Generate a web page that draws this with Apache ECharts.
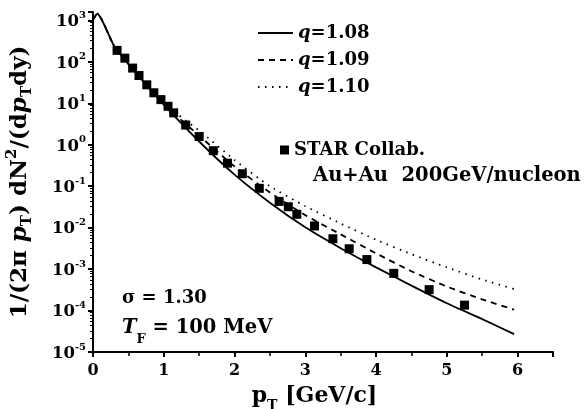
<!DOCTYPE html>
<html>
<head>
<meta charset="utf-8">
<script src="https://cdn.jsdelivr.net/npm/echarts@6/dist/echarts.min.js"></script>
<style>
  html, body { margin: 0; padding: 0; background: #fff; }
  #chart { width: 588px; height: 409px; }
</style>
</head>
<body>
<div id="chart"></div>
<script>
// pT grid the model curves were read at
var ptCurve = [0, 0.06, 0.3, 0.6, 1.0, 1.5, 2.0, 2.5, 3.0, 3.5, 4.0, 4.5, 5.0, 5.5, 5.95];
var q108 = [1050, 1450, 240, 56, 9.3, 1.2, 0.19, 0.040, 0.0102, 0.0032, 0.0011, 0.0004, 0.00015, 0.000062, 0.000027];
var q109 = [1050, 1450, 240, 56, 9.5, 1.66, 0.30, 0.071, 0.020, 0.0069, 0.0024, 0.00089, 0.00038, 0.000186, 0.000105];
var q110 = [1050, 1450, 240, 56, 10, 2.2, 0.43, 0.10, 0.033, 0.0126, 0.0051, 0.0023, 0.0011, 0.00056, 0.00033];

// STAR Collab. Au+Au 200 GeV points
var ptStar = [0.34, 0.45, 0.56, 0.65, 0.76, 0.86, 0.96, 1.06, 1.14, 1.31, 1.50, 1.70, 1.90, 2.11, 2.35,
              2.63, 2.76, 2.88, 3.13, 3.39, 3.62, 3.87, 4.25, 4.75, 5.25];
var yStar = [190, 123, 71, 47, 28, 18, 12.3, 8.5, 5.9, 3.0, 1.58, 0.72, 0.36, 0.20, 0.089,
             0.043, 0.032, 0.021, 0.011, 0.0054, 0.0031, 0.0017, 0.00079, 0.00032, 0.000135];

var xTicks = ['0', '1', '2', '3', '4', '5', '6'];

var myChart = echarts.init(document.getElementById('chart'));
var font = 'DejaVu Serif';

function pairs(xs, ys) {
    return xs.map(function (x, i) { return [x, ys[i]]; });
}

function txt(size, extra) {
    var s = { fontFamily: font, fontWeight: 'bold', fontSize: size, color: '#000' };
    for (var k in extra) s[k] = extra[k];
    return s;
}

var option = {
    backgroundColor: '#fff',
    animation: false,
    textStyle: { fontFamily: font, fontWeight: 'bold', color: '#000' },
    grid: { left: 93, right: 35, top: 12, bottom: 57, outerBoundsMode: 'none' },
    legend: [
        {
            data: ['q=1.08', 'q=1.09', 'q=1.10'],
            orient: 'vertical',
            left: 252, top: 19,
            itemWidth: 35, itemHeight: 14, itemGap: 9,
            itemStyle: { opacity: 0 },
            formatter: function (name) {
                return '{i|q}{n|' + name.slice(1) + '}';
            },
            textStyle: {
                rich: {
                    i: txt(18, { fontStyle: 'italic' }),
                    n: txt(18)
                }
            }
        },
        {
            data: ['STAR Collab.'],
            left: 275, top: 136,
            itemWidth: 9, itemHeight: 9,
            textStyle: txt(18)
        }
    ],
    xAxis: {
        type: 'value',
        min: 0, max: 6.5, interval: 1,
        name: '{p|p}{s|T}{n| [GeV/c]}',
        nameLocation: 'middle', nameGap: 33,
        nameTextStyle: {
            padding: [0, 17, 0, 0],
            rich: {
                p: txt(22, { lineHeight: 28, verticalAlign: 'top' }),
                s: txt(14, { lineHeight: 28, verticalAlign: 'bottom' }),
                n: txt(22, { lineHeight: 28, verticalAlign: 'top' })
            }
        },
        axisLine: { onZero: false, lineStyle: { color: '#000', width: 2 } },
        axisTick: { length: 5, lineStyle: { color: '#000', width: 2 } },
        minorTick: { show: true, splitNumber: 2, length: 4, lineStyle: { color: '#000', width: 1.5 } },
        splitLine: { show: false },
        axisLabel: {
            fontFamily: font, fontWeight: 'bold', fontSize: 16, color: '#000', margin: 11,
            formatter: function (v) {
                return Number.isInteger(v) ? xTicks[v] : '';
            }
        }
    },
    yAxis: {
        type: 'log',
        logBase: 10,
        min: 1e-5, max: 1600,
        name: '1/(2\u03c0 {i|p}{sub|T}) dN{sup|2}/(d{i|p}{sub|T}dy)',
        nameLocation: 'middle', nameRotate: 90, nameGap: 58,
        nameTextStyle: txt(23, {
            lineHeight: 30,
            rich: {
                i: txt(23, { fontStyle: 'italic', lineHeight: 30 }),
                sub: txt(15, { lineHeight: 30, verticalAlign: 'bottom' }),
                sup: txt(15, { lineHeight: 30, verticalAlign: 'top' })
            }
        }),
        axisLine: { lineStyle: { color: '#000', width: 2 } },
        axisTick: { length: 5, lineStyle: { color: '#000', width: 2 } },
        minorTick: { show: true, splitNumber: 8, length: 3, lineStyle: { color: '#000', width: 1 } },
        splitLine: { show: false },
        axisLabel: {
            showMaxLabel: false,
            margin: 7,
            formatter: function (v) {
                var e = Math.round(Math.log10(v));
                if (Math.abs(Math.log10(v) - e) > 1e-6) return '';
                return '{b|10}{e|' + e + '}';
            },
            rich: {
                b: txt(16.5, { lineHeight: 20, verticalAlign: 'bottom' }),
                e: txt(10, { lineHeight: 20, verticalAlign: 'top' })
            }
        }
    },
    series: [
        {
            name: 'q=1.08', type: 'line', smooth: 0.2, symbol: 'none',
            lineStyle: { color: '#000', width: 1.8, type: 'solid' },
            itemStyle: { color: '#000' },
            data: pairs(ptCurve, q108)
        },
        {
            name: 'q=1.09', type: 'line', smooth: 0.2, symbol: 'none',
            lineStyle: { color: '#000', width: 1.8, type: [6, 5] },
            itemStyle: { color: '#000' },
            data: pairs(ptCurve, q109)
        },
        {
            name: 'q=1.10', type: 'line', smooth: 0.2, symbol: 'none',
            lineStyle: { color: '#000', width: 1.8, type: [1.5, 5.5] },
            itemStyle: { color: '#000' },
            data: pairs(ptCurve, q110)
        },
        {
            name: 'STAR Collab.', type: 'scatter', symbol: 'rect', symbolSize: 9,
            itemStyle: { color: '#000', opacity: 1 },
            data: pairs(ptStar, yStar)
        }
    ],
    graphic: [
        {
            type: 'text', left: 313, top: 166,
            style: { text: 'Au+Au  200GeV/nucleon', font: 'bold 19.5px "DejaVu Serif"', fill: '#000' }
        },
        {
            type: 'text', left: 122, top: 289,
            style: { text: '\u03c3 = 1.30', font: 'bold 18px "DejaVu Serif"', fill: '#000' }
        },
        {
            type: 'text', left: 122, top: 318,
            style: {
                text: '{i|T}{s|F}{n| = 100 MeV}',
                rich: {
                    i: txt(19.5, { fontStyle: 'italic', lineHeight: 28, verticalAlign: 'top', fill: '#000' }),
                    s: txt(13, { lineHeight: 28, verticalAlign: 'bottom', fill: '#000' }),
                    n: txt(19.5, { lineHeight: 28, verticalAlign: 'top', fill: '#000' })
                }
            }
        }
    ]
};

myChart.setOption(option);
</script>
</body>
</html>
